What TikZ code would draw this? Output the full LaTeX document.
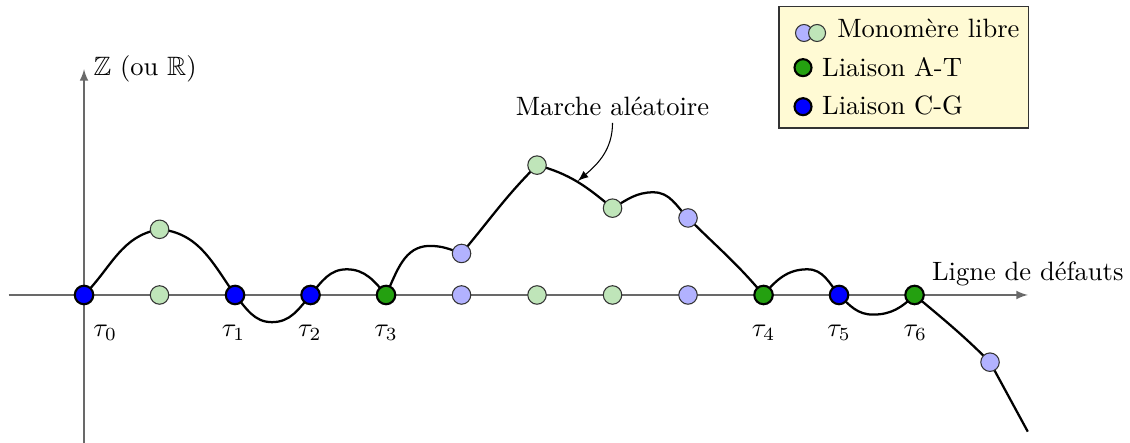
\documentclass[tikz,border=0pt]{standalone}
\usepackage{amssymb}
\usetikzlibrary{arrows.meta,backgrounds}
\definecolor{atgreen}{RGB}{36,160,16}
\definecolor{freegreen}{RGB}{191,229,185}
\definecolor{freeblue}{RGB}{178,178,255}
\definecolor{legendbg}{RGB}{255,250,212}
\definecolor{axisgray}{RGB}{105,105,105}
\tikzset{
  bondnode/.style={circle, draw=black, thick, inner sep=0pt, minimum size=0.245cm},
  atbond/.style={bondnode, fill=atgreen},
  cgbond/.style={bondnode, fill=blue},
  freenode/.style={circle, draw=black!80, thin, inner sep=0pt, minimum size=0.245cm},
  freeg/.style={freenode, fill=freegreen},
  freeb/.style={freenode, fill=freeblue},
  axisline/.style={draw=axisgray, line width=0.5pt, -latex},
  walk/.style={draw=black, line width=0.85pt},
  legtext/.style={anchor=base west, inner sep=0pt},
  small/.style={minimum size=0.225cm}
}
\begin{document}
\begin{tikzpicture}
\useasboundingbox (-1.113,-1.960) rectangle (13.854,3.907);
% axis nodes
\node[cgbond] (a0) at (0,0) {};
\node[freeg]  (a1) at (1,0) {};
\node[cgbond] (a2) at (2,0) {};
\node[cgbond] (a3) at (3,0) {};
\node[atbond] (a4) at (4,0) {};
\node[freeb]  (a5) at (5,0) {};
\node[freeg]  (a6) at (6,0) {};
\node[freeg]  (a7) at (7,0) {};
\node[freeb]  (a8) at (8,0) {};
\node[atbond] (a9) at (9,0) {};
\node[cgbond] (a10) at (10,0) {};
\node[atbond] (a11) at (11,0) {};
% walk nodes
\node[freeg] (c1) at (1,0.87) {};
\node[freeb] (c2) at (5,0.55) {};
\node[freeg] (c3) at (6,1.72) {};
\node[freeg] (c4) at (7,1.15) {};
\node[freeb] (c5) at (8,1.02) {};
\node[freeb] (c6) at (12,-0.89) {};
% walk extrema
\coordinate (m1) at (2.49,-0.36);
\coordinate (m2) at (3.48,0.34);
\coordinate (m3) at (4.58,0.65);
\coordinate (m4) at (7.54,1.36);
\coordinate (m5) at (9.58,0.34);
\coordinate (m6) at (10.45,-0.26);
\coordinate (wend) at (12.5,-1.81);
% axes ends
\coordinate (xstart) at (-1,0);
\coordinate (xend) at (12.5,0);
\coordinate (ybot) at (0,-1.96);
\coordinate (ytop) at (0,2.99);
% tau labels
\node (t0) at (0.28,-0.5) {$\tau_0$};
\node (t1) at (1.98,-0.5) {$\tau_1$};
\node (t2) at (2.99,-0.5) {$\tau_2$};
\node (t3) at (4,-0.5) {$\tau_3$};
\node (t4) at (9,-0.5) {$\tau_4$};
\node (t5) at (10,-0.5) {$\tau_5$};
\node (t6) at (11.01,-0.5) {$\tau_6$};
% annotation
\node[anchor=base, inner sep=0pt] (lbl) at (7.0,2.38) {Marche al\'eatoire};
\coordinate (tip) at (6.54,1.51);
\coordinate (lblstart) at (7.0,2.28);
\draw[-latex, line width=0.4pt] (lblstart) to[out=-90,in=40] (tip);
% legend
\node[draw=black!80, fill=legendbg, minimum width=3.311cm, minimum height=1.603cm, inner sep=0pt] (legend) at (10.86,3.0135) {};
\node[freeb, small] (lb1) at (9.536,3.47) {};
\node[freeg, small] (lg1) at (9.709,3.47) {};
\node[legtext] (lt1) at (9.97,3.405) {Monom\`ere libre};
\node[atbond, small] (lg2) at (9.523,3.011) {};
\node[legtext] (lt2) at (9.77,2.89) {Liaison A-T};
\node[cgbond, small] (lg3) at (9.523,2.494) {};
\node[legtext] (lt3) at (9.77,2.384) {Liaison C-G};
\begin{scope}[on background layer]
\draw[axisline] (xstart) -- (xend) node[above, text=black] {Ligne de d\'efauts};
\draw[axisline] (ybot) -- (ytop) node[right, text=black] {$\mathbb{Z}$ (ou $\mathbb{R}$)};
\draw[walk] (a0.center) to[out=45,in=190] (c1.center)
  to[out=-5,in=125] (a2.center)
  to[out=-50,in=180] (m1) to[out=0,in=-130] (a3.center)
  to[out=50,in=180] (m2) to[out=0,in=130] (a4.center)
  to[out=65,in=180] (m3) to[out=0,in=160] (c2.center)
  to[out=50,in=225] (c3.center)
  to[out=-15,in=140] (c4.center)
  to[out=30,in=180] (m4) to[out=0,in=135] (c5.center)
  to[out=-45,in=130] (a9.center)
  to[out=50,in=180] (m5) to[out=0,in=130] (a10.center)
  to[out=-45,in=180] (m6) to[out=0,in=-135] (a11.center)
  to[out=-40,in=135] (c6.center) -- (wend);
\end{scope}
\end{tikzpicture}
\end{document}
